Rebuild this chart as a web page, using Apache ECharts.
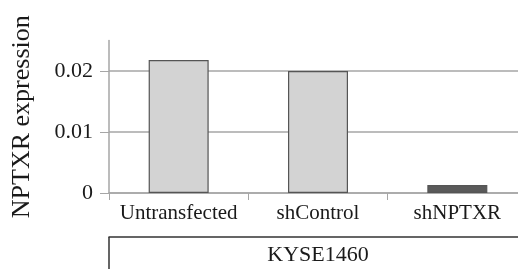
<!DOCTYPE html>
<html>
<head>
<meta charset="utf-8">
<script src="https://cdn.jsdelivr.net/npm/echarts@6/dist/echarts.min.js"></script>
<style>
  html, body { margin: 0; padding: 0; background: #fff; overflow: hidden; }
  /* plot runs past the right edge of the picture, so the chart is a bit wider than the window */
  #chart { width: 527px; height: 269px; }
</style>
</head>
<body>
<div id="chart"></div>
<script>
const categories = ['Untransfected', 'shControl', 'shNPTXR']
const expression = [0.0218, 0.0200, 0.0013]
const yTicks = [0, 0.01, 0.02]
const groupLabel = ['KYSE1460']

const font = 'Liberation Serif'
const gridGray = '#a6a6a6'

const chart = echarts.init(document.getElementById('chart'))

chart.setOption({
  animation: false,
  grid: { left: 109, right: 0, top: 40.5, bottom: 76, containLabel: false },
  xAxis: [
    {
      type: 'category',
      data: categories,
      boundaryGap: true,
      axisLine: { lineStyle: { color: gridGray, width: 1.5 } },
      axisTick: { show: true, length: 7, lineStyle: { color: gridGray } },
      axisLabel: { color: '#1a1a1a', fontFamily: font, fontSize: 21, margin: 10, interval: 0 }
    },
    {
      type: 'category',
      data: groupLabel,
      position: 'bottom',
      offset: 44,
      boundaryGap: true,
      axisLine: { lineStyle: { color: '#333', width: 1.5 } },
      axisTick: { show: true, length: 40, lineStyle: { color: '#333', width: 1.5 } },
      axisLabel: { color: '#1a1a1a', fontFamily: font, fontSize: 22, margin: 7 }
    }
  ],
  yAxis: {
    type: 'value',
    min: 0,
    max: 0.025,
    interval: 0.01,
    name: 'NPTXR expression',
    nameLocation: 'middle',
    nameRotate: 90,
    nameGap: 74,
    nameTextStyle: { color: '#1a1a1a', fontFamily: font, fontSize: 26 },
    axisLine: { show: true, lineStyle: { color: gridGray, width: 1.5 } },
    axisTick: { show: true, length: 9, customValues: yTicks, lineStyle: { color: gridGray } },
    axisLabel: {
      color: '#1a1a1a', fontFamily: font, fontSize: 22, margin: 16,
      customValues: yTicks,
      formatter: v => (v === 0 ? '0' : v.toFixed(2))
    },
    splitLine: { show: true, lineStyle: { color: gridGray, width: 1.5 } }
  },
  series: [
    {
      type: 'bar',
      xAxisIndex: 0,
      barWidth: 60,
      data: expression.map((v, i) => ({
        value: v,
        itemStyle: {
          color: i === 2 ? '#5a5a5a' : '#d3d3d3',
          borderColor: '#555',
          borderWidth: 1.2
        }
      }))
    }
  ]
})
</script>
</body>
</html>
